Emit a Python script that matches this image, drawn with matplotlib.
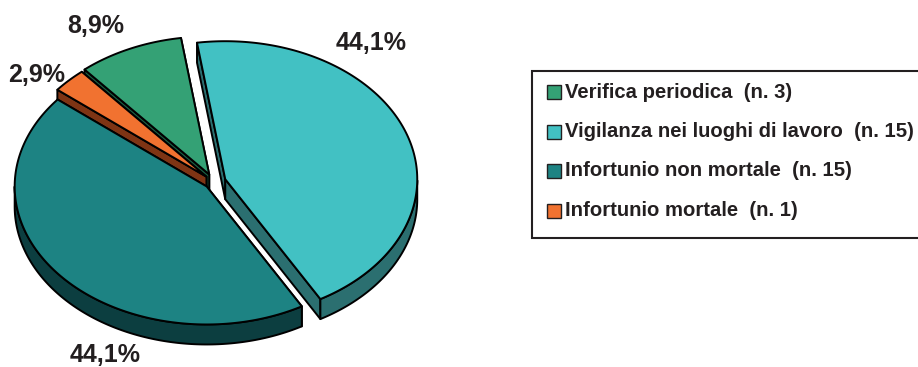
import numpy as np
import matplotlib.pyplot as plt
from matplotlib.patches import Polygon, Rectangle

# data
categories = ['Verifica periodica', 'Vigilanza nei luoghi di lavoro',
              'Infortunio non mortale', 'Infortunio mortale']
counts = [3, 15, 15, 1]
percent = [8.9, 44.1, 44.1, 2.9]
pct_labels = ['8,9%', '44,1%', '44,1%', '2,9%']

# styles
top_colors = ['#34a175', '#42c1c3', '#1d8383', '#f17230']
side_colors = ['#1a5c40', '#2b6f70', '#0c3e40', '#7e3414']
explode = [0.06, 0.062, 0.05, 0.055]
label_pos = [(96, 26), (371, 43), (105, 355), (37, 75)]
text_color = '#231f20'

# pie geometry (pixels)
cx, cy = 214, 182
ra, rb = 192, 138
depth = 20
start_angle = 130.5


def rim(ox, oy, t, dz=0):
    return np.column_stack([ox + ra * np.cos(t), oy - rb * np.sin(t) + dz])


fig = plt.figure(figsize=(9.18, 3.67), dpi=100)
ax = fig.add_axes([0, 0, 1, 1])
ax.set_xlim(0, 918)
ax.set_ylim(367, 0)
ax.axis('off')

# slice angles, clockwise from start_angle
ends = start_angle - np.cumsum(percent) / 100 * 360
starts = np.concatenate([[start_angle], ends[:-1]])

walls = []
tops = []
for i in range(len(percent)):
    a0, a1 = np.radians(starts[i]), np.radians(ends[i])
    mid = (a0 + a1) / 2
    ox = cx + explode[i] * ra * np.cos(mid)
    oy = cy - explode[i] * rb * np.sin(mid)
    t = np.linspace(a0, a1, 200)

    # top face
    pts = np.vstack([[ox, oy], rim(ox, oy, t)])
    tops.append(Polygon(pts, closed=True, fc=top_colors[i], ec='black', lw=1.4, joinstyle='round'))

    # radial cut faces
    for a in (a0, a1):
        p = rim(ox, oy, np.array([a]))[0]
        quad = np.array([[ox, oy], p, [p[0], p[1] + depth], [ox, oy + depth]])
        walls.append((quad[:, 1].mean(), quad, side_colors[i]))

    # front curved side
    tf = t[np.sin(t) < 0]
    if len(tf) > 1:
        up = rim(ox, oy, tf)
        down = rim(ox, oy, tf, depth)[::-1]
        poly = np.vstack([up, down])
        walls.append((poly[:, 1].mean() + 50, poly, side_colors[i]))

for _, pts, c in sorted(walls, key=lambda w: w[0]):
    ax.add_patch(Polygon(pts, closed=True, fc=c, ec='black', lw=1.4, joinstyle='round'))
for p in tops:
    ax.add_patch(p)

for (x, y), lab in zip(label_pos, pct_labels):
    ax.text(x, y, lab, ha='center', va='center', fontsize=18, fontweight='bold',
            family='Liberation Sans', color=text_color)

# legend box
ax.add_patch(Rectangle((532, 71), 400, 167, fc='white', ec='#231f20', lw=1.5))
for k, (name, n) in enumerate(zip(categories, counts)):
    y = 92 + k * 39.5
    ax.add_patch(Rectangle((547, y - 7), 14, 14, fc=top_colors[k], ec='#231f20', lw=1.0))
    ax.text(565, y, f'{name}  (n. {n})', ha='left', va='center', fontsize=14.6,
            fontweight='bold', family='Liberation Sans', color=text_color)

fig.savefig('out.png', dpi=100)
